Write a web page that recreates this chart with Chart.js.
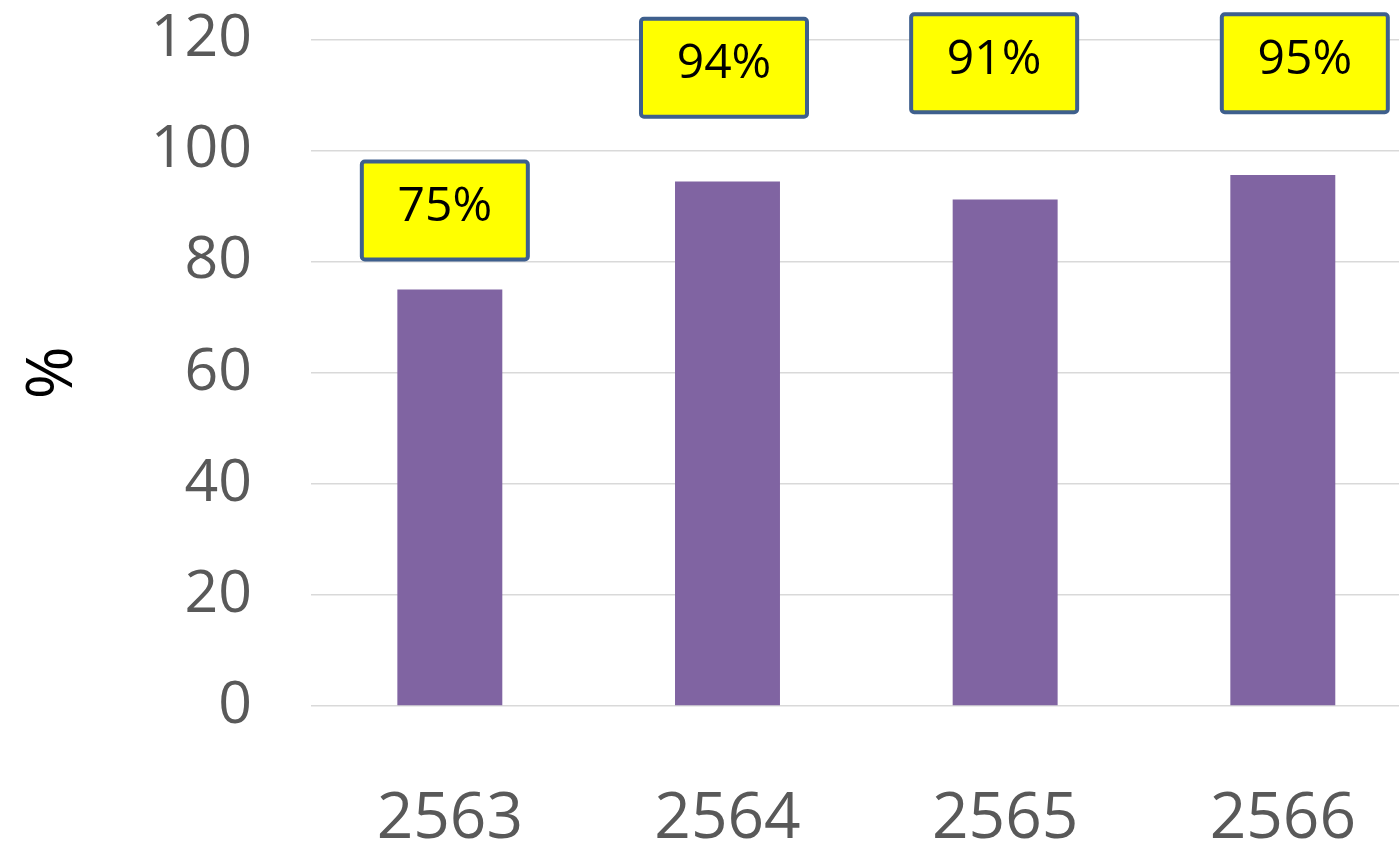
<!DOCTYPE html>
<html>
<head>
<meta charset="utf-8">
<script src="https://cdn.jsdelivr.net/npm/chart.js@4/dist/chart.umd.min.js"></script>
<style>
  html, body { margin: 0; padding: 0; background: #ffffff; overflow: hidden; }
  #wrap { width: 1399px; height: 847px; overflow: hidden; position: relative; }
  #c { position: absolute; left: 0; top: 0; }
</style>
</head>
<body>
<div id="wrap"><canvas id="c" width="1424" height="847"></canvas></div>
<script>
// ---- Data ----
const categories = ['2563', '2564', '2565', '2566'];
const values = [75.0, 94.4, 91.2, 95.6];
const valueLabels = ['75%', '94%', '91%', '95%'];
const yTicks = [0, 20, 40, 60, 80, 100, 120];
const yTitle = '%';

const FONT = "'Open Sans', 'Noto Sans', sans-serif";
const TARGET_TOP = 39;      // desired plot top in the window
const TARGET_RIGHT = 1421;  // plot continues past the right window edge
const X_AXIS_H = 141;       // space below the plot

const boxLabelPlugin = {
  id: 'boxLabels',
  afterDatasetsDraw(chart, args, opts) {
    const ctx = chart.ctx;
    const meta = chart.getDatasetMeta(0);
    const yScale = chart.scales.y;
    meta.data.forEach((bar, i) => {
      const cx = bar.x + opts.dx[i];
      const cy = yScale.getPixelForValue(opts.yAt[i]);
      const w = opts.width, h = opts.height;
      ctx.save();
      ctx.beginPath();
      ctx.roundRect(cx - w / 2, cy - h / 2, w, h, opts.radius);
      ctx.fillStyle = opts.fill;
      ctx.fill();
      ctx.lineWidth = opts.borderWidth;
      ctx.strokeStyle = opts.border;
      ctx.stroke();
      ctx.fillStyle = opts.color;
      ctx.font = opts.fontSize + 'px ' + FONT;
      ctx.textAlign = 'center';
      ctx.textBaseline = 'middle';
      ctx.fillText(opts.texts[i], cx, cy + opts.textDy);
      ctx.restore();
    });
  }
};

function makeChart(canvas) {
  return new Chart(canvas, {
    type: 'bar',
    data: {
      labels: categories,
      datasets: [{
        data: values,
        backgroundColor: '#8064A2',
        borderWidth: 0,
        barPercentage: 0.378,
        categoryPercentage: 1.0
      }]
    },
    options: {
      responsive: false,
      maintainAspectRatio: false,
      animation: false,
      layout: { padding: { top: 0, right: 0, bottom: 0, left: 0 } },
      plugins: {
        legend: { display: false },
        tooltip: { enabled: false },
        boxLabels: {
          texts: valueLabels,
          dx: [-5, -3.5, -11, 22],
          yAt: [89.2, 114.9, 115.7, 115.7],
          width: 166,
          height: 98,
          radius: 3,
          borderWidth: 4,
          border: '#3E5F8D',
          fill: '#FFFF00',
          color: '#000000',
          fontSize: 48,
          textDy: -3
        }
      },
      scales: {
        x: {
          grid: { display: false, drawTicks: false },
          border: { display: false },
          ticks: {
            color: '#595959',
            font: { family: FONT, size: 64 },
            padding: 75,
            maxRotation: 0,
            autoSkip: false
          },
          afterFit(scale) { scale.height = X_AXIS_H; }
        },
        y: {
          min: 0,
          max: 120,
          afterBuildTicks(scale) { scale.ticks = yTicks.map(v => ({ value: v })); },
          grid: { color: '#D9D9D9', lineWidth: 1.5, drawTicks: false },
          border: { display: false },
          ticks: {
            color: '#595959',
            font: { family: FONT, size: 59 },
            padding: 59
          },
          title: {
            display: true,
            text: yTitle,
            color: '#000000',
            font: { family: FONT, size: 64 },
            padding: { top: 15, bottom: 0 }
          },
          afterFit(scale) { scale.width = 311; }
        }
      }
    },
    plugins: [boxLabelPlugin]
  });
}

const canvas = document.getElementById('c');
let chart = makeChart(canvas);
// Size/shift the canvas so the plot area lands where the reference has it.
const extraTop = Math.round(chart.chartArea.top - TARGET_TOP);
const extraRight = Math.round(TARGET_RIGHT - chart.chartArea.right);
if (extraTop !== 0 || extraRight !== 0) {
  chart.destroy();
  const w = 1424 + extraRight;
  const h = 847 + extraTop;
  canvas.width = w;
  canvas.height = h;
  canvas.style.width = w + 'px';
  canvas.style.height = h + 'px';
  canvas.style.top = (-extraTop) + 'px';
  chart = makeChart(canvas);
}
</script>
</body>
</html>
